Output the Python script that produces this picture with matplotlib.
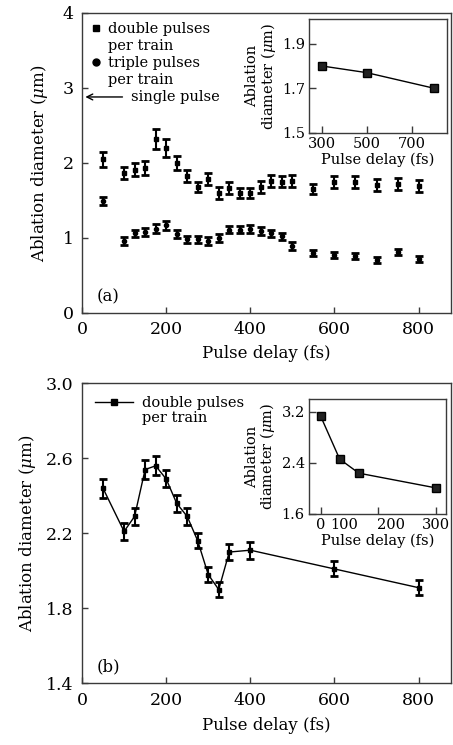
import matplotlib
matplotlib.use("Agg")
import matplotlib.pyplot as plt
from matplotlib.lines import Line2D

plt.rcParams['font.family'] = ['DejaVu Serif']
plt.rcParams['mathtext.fontset'] = 'dejavuserif'

# ---- data (a) ----
delay_a = [50, 100, 125, 150, 175, 200, 225, 250, 275, 300, 325, 350, 375, 400,
           425, 450, 475, 500, 550, 600, 650, 700, 750, 800]
double_a = [2.05, 1.87, 1.91, 1.93, 2.32, 2.20, 2.00, 1.83, 1.68, 1.79, 1.60, 1.66,
            1.60, 1.60, 1.68, 1.76, 1.75, 1.76, 1.65, 1.75, 1.75, 1.70, 1.72, 1.69]
double_a_err = [0.10, 0.08, 0.09, 0.09, 0.13, 0.12, 0.09, 0.08, 0.07, 0.08, 0.08, 0.08,
                0.07, 0.07, 0.08, 0.08, 0.07, 0.08, 0.07, 0.08, 0.08, 0.08, 0.08, 0.08]
triple_a = [1.49, 0.96, 1.06, 1.08, 1.12, 1.17, 1.05, 0.98, 0.98, 0.96, 1.00, 1.11,
            1.11, 1.12, 1.09, 1.06, 1.02, 0.89, 0.80, 0.77, 0.76, 0.71, 0.81, 0.72]
triple_a_err = [0.05, 0.05, 0.05, 0.05, 0.06, 0.06, 0.05, 0.05, 0.05, 0.05, 0.05, 0.05,
                0.05, 0.05, 0.05, 0.05, 0.05, 0.05, 0.04, 0.04, 0.04, 0.04, 0.04, 0.04]
inset_a_delay = [300, 500, 800]
inset_a_diam = [1.80, 1.77, 1.70]
single_pulse = 2.88

# ---- data (b) ----
delay_b = [50, 100, 125, 150, 175, 200, 225, 250, 275, 300, 325, 350, 400, 600, 800]
double_b = [2.44, 2.21, 2.29, 2.54, 2.56, 2.49, 2.36, 2.29, 2.16, 1.98, 1.90, 2.10,
            2.11, 2.01, 1.91]
double_b_err = [0.05, 0.045, 0.045, 0.05, 0.05, 0.045, 0.045, 0.045, 0.04, 0.04, 0.04,
                0.045, 0.045, 0.04, 0.04]
inset_b_delay = [0, 50, 100, 300]
inset_b_diam = [3.14, 2.46, 2.24, 2.01]
inset_b_ticklabels = ['0', '100', '200', '300']

EDGE = '#3a3a3a'
fig = plt.figure(figsize=(4.53, 7.45), dpi=100)

def style(ax, size, pad=4, length=4):
    for s in ax.spines.values():
        s.set_color(EDGE)
        s.set_linewidth(1.0)
    ax.tick_params(direction='in', top=False, right=False, labelsize=size,
                   length=length, width=1.0, color=EDGE, pad=pad)

TICK_FS = 12.5
LABEL_FS = 12
SMALL_FS = 10.5
ylabel = r'Ablation diameter ($\mu$m)'

# ---------- panel (a) ----------
ax1 = fig.add_axes([0.1810, 0.5799, 0.8146, 0.4027])
ax1.errorbar(delay_a, double_a, yerr=double_a_err, fmt='s', color='black', ms=3,
             elinewidth=1.5, capsize=3, capthick=2)
ax1.errorbar(delay_a, triple_a, yerr=triple_a_err, fmt='o', color='black', ms=3,
             elinewidth=1.5, capsize=3, capthick=2)
ax1.set_xlim(0, 877)
ax1.set_ylim(0, 4)
ax1.set_xticks([0, 200, 400, 600, 800])
ax1.set_yticks([0, 1, 2, 3, 4])
style(ax1, TICK_FS, pad=6)
ax1.set_xlabel('Pulse delay (fs)', fontsize=LABEL_FS, labelpad=5)
ax1.set_ylabel(ylabel, fontsize=LABEL_FS, labelpad=9)
ax1.text(0.04, 0.04, '(a)', transform=ax1.transAxes, fontsize=LABEL_FS)
ax1.annotate('single pulse', xy=(8, single_pulse), xytext=(116, single_pulse),
             fontsize=SMALL_FS, va='center', ha='left',
             arrowprops=dict(arrowstyle='->', color='black', lw=1.0,
                             shrinkA=4, shrinkB=0))
h1 = [Line2D([], [], marker='s', ls='none', color='black', ms=5),
      Line2D([], [], ls='none'),
      Line2D([], [], marker='o', ls='none', color='black', ms=5),
      Line2D([], [], ls='none')]
ax1.legend(h1, ['double pulses', 'per train', 'triple pulses', 'per train'],
           loc='upper left', bbox_to_anchor=(0.0, 1.0), frameon=False,
           fontsize=SMALL_FS, handlelength=0.6, handletextpad=0.5,
           labelspacing=0.2, borderaxespad=0.25)

ins1 = fig.add_axes([0.6821, 0.8215, 0.3046, 0.1530])
ins1.plot(inset_a_delay, inset_a_diam, '-s', color='black', ms=6, lw=1.0,
          mfc='#222222')
ins1.set_xlim(244, 857)
ins1.set_ylim(1.5, 2.01)
ins1.set_xticks([300, 500, 700])
ins1.set_yticks([1.5, 1.7, 1.9])
style(ins1, SMALL_FS, pad=3, length=5)
ins1.set_xlabel('Pulse delay (fs)', fontsize=SMALL_FS, labelpad=1)
ins1.set_ylabel('Ablation\n' + r'diameter ($\mu$m)', fontsize=SMALL_FS,
                labelpad=3, linespacing=0.95)

# ---------- panel (b) ----------
ax2 = fig.add_axes([0.1810, 0.0828, 0.8146, 0.4027])
ax2.errorbar(delay_b, double_b, yerr=double_b_err, fmt='-s', color='black', ms=3,
             lw=1.0, elinewidth=1.5, capsize=3, capthick=2)
ax2.set_xlim(0, 877)
ax2.set_ylim(1.4, 3.0)
ax2.set_xticks([0, 200, 400, 600, 800])
ax2.set_yticks([1.4, 1.8, 2.2, 2.6, 3.0])
ax2.yaxis.set_major_formatter(matplotlib.ticker.FormatStrFormatter('%.1f'))
style(ax2, TICK_FS, pad=6)
ax2.set_xlabel('Pulse delay (fs)', fontsize=LABEL_FS, labelpad=6)
ax2.set_ylabel(ylabel, fontsize=LABEL_FS, labelpad=6)
ax2.text(0.04, 0.04, '(b)', transform=ax2.transAxes, fontsize=LABEL_FS)
h2 = [Line2D([], [], marker='s', ls='-', color='black', ms=5, lw=1.0),
      Line2D([], [], ls='none')]
ax2.legend(h2, ['double pulses', 'per train'], loc='upper left',
           bbox_to_anchor=(0.0, 1.0), frameon=False, fontsize=SMALL_FS,
           handlelength=2.6, handletextpad=0.6, labelspacing=0.05,
           borderaxespad=0.5)

ins2 = fig.add_axes([0.6821, 0.3101, 0.3024, 0.1540])
ins2.plot(inset_b_delay, inset_b_diam, '-s', color='black', ms=6, lw=1.0,
          mfc='#222222')
ins2.set_xlim(-30, 327)
ins2.set_ylim(1.6, 3.4)
ins2.xaxis.remove_overlapping_locs = False
ins2.set_xticks([0, 150, 300], labels=['', '', ''])
ins2.set_xticks([0, 63, 185, 300], labels=inset_b_ticklabels, minor=True)
ins2.set_yticks([1.6, 2.4, 3.2])
style(ins2, SMALL_FS, pad=3, length=5)
ins2.tick_params(axis='x', which='minor', direction='in', length=0,
                 labelsize=SMALL_FS, pad=3)
ins2.set_xlabel('Pulse delay (fs)', fontsize=SMALL_FS, labelpad=1)
ins2.set_ylabel('Ablation\n' + r'diameter ($\mu$m)', fontsize=SMALL_FS,
                labelpad=3, linespacing=0.95)

fig.savefig('out.png', dpi=100)
